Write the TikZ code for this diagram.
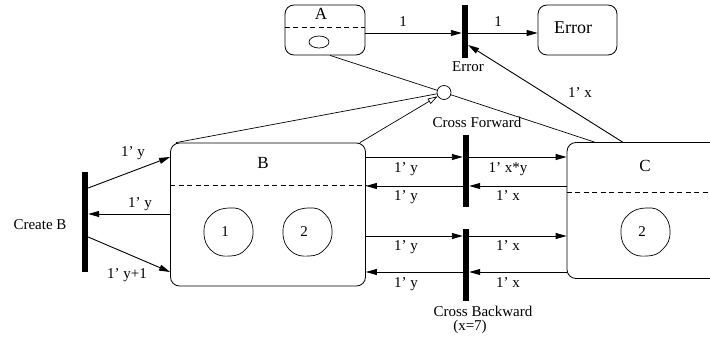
\documentclass[tikz,border=0pt]{standalone}
\usepackage{fontspec}
\setmainfont{Liberation Serif}
\usetikzlibrary{arrows.meta,calc}
\begin{document}
\begin{tikzpicture}[x=1pt,y=-1pt,
  box/.style={draw,line width=0.8pt,rounded corners=9pt,inner sep=0pt},
  bar/.style={fill=black,draw=none,inner sep=0pt,minimum width=6pt},
  arr/.style={line width=0.9pt,-{Triangle[length=11pt,width=6pt]}},
  thinln/.style={line width=0.7pt},
  dsh/.style={line width=0.8pt,dash pattern=on 5pt off 3.5pt},
  lbl/.style={anchor=base,inner sep=0pt,font=\fontsize{15}{17}\selectfont},
  ttl/.style={anchor=base,inner sep=0pt,font=\fontsize{17}{19}\selectfont},
  blob/.pic={\draw[line width=0.7pt] plot[smooth cycle,tension=0.8] coordinates {(2,-24) (18,-18) (25,0) (18,17) (2,24) (-16,19) (-24,1) (-17,-17)};}
]
\useasboundingbox (0,0) rectangle (710,337);
\clip (0,0) rectangle (710,337);

% boxes
\node[box,minimum width=80pt,minimum height=50pt] (A) at (325,30) {};
\node[box,minimum width=79pt,minimum height=50pt] (Err) at (577.5,30) {};
\node[box,minimum width=195pt,minimum height=143pt] (B) at (268,214.5) {};
\node[box,minimum width=156pt,minimum height=136pt] (C) at (645,210.5) {};

% bars
\node[bar,minimum height=53pt] (eb) at (465,31.5) {};
\node[bar,minimum height=72pt] (cf) at (466,171) {};
\node[bar,minimum height=72pt] (cb) at (466,265) {};
\node[bar,minimum height=100pt] (cr) at (85,221.5) {};

% junction circle
\node[draw,circle,thinln,minimum size=14pt,inner sep=0pt] (o) at (444,92.5) {};

% helper coordinates (row heights)
\coordinate (ya) at (0,27);
\coordinate (yarr) at (0,33);
\coordinate (ey) at (0,45);
\coordinate (yb) at (0,185.5);
\coordinate (yc) at (0,192);
\coordinate (r1) at (0,157);
\coordinate (r2) at (0,186);
\coordinate (r3) at (0,236);
\coordinate (r4) at (0,272);
\coordinate (cc1) at (0,188);
\coordinate (cm) at (0,214);
\coordinate (cc3) at (0,237);

% dashed separators
\draw[dsh] (A.west |- ya) -- (A.east |- ya);
\draw[dsh] (B.west |- yb) -- (B.east |- yb);
\draw[dsh] (C.west |- yc) -- (C.east |- yc);

% contents
\draw[thinln] (319,42) ellipse [x radius=10, y radius=6];
\pic at (228,232) {blob};
\pic at (307,232) {blob};
\pic at (645,232) {blob};
\node[lbl] (n1) at (225,236) {1};
\node[lbl] (n2) at (304,236) {2};
\node[lbl] (n3) at (642,236) {2};

% titles
\node[ttl] (tA) at (321,20) {A};
\node[ttl] (tB) at (263,168) {B};
\node[ttl] (tC) at (645,171) {C};
\node[anchor=base,inner sep=0pt,font=\fontsize{18}{20}\selectfont] (tE) at (573,34) {Error};

% top arrows
\draw[arr] (A.east |- yarr) -- (eb.west |- yarr);
\draw[arr] (eb.east |- yarr) -- (Err.west |- yarr);
\draw[arr] ([xshift=56pt]C.north west) -- (eb.east |- ey);

% lines to junction
\draw[thinln] ([xshift=5pt]A.south) -- (o);
\draw[thinln] ([xshift=6pt]B.north west) -- (o);
\draw[thinln,-{Triangle[open,length=10pt,width=6pt]}] ([xshift=-6pt]B.north east) -- (o);
\draw[thinln] (o) -- ([xshift=28pt]C.north west);

% cross forward
\draw[arr] (B.east |- r1) -- (cf.west |- r1);
\draw[arr] (cf.east |- r1) -- (C.west |- r1);
\draw[arr] (C.west |- r2) -- (cf.east |- r2);
\draw[arr] (cf.west |- r2) -- (B.east |- r2);

% cross backward
\draw[arr] (B.east |- r3) -- (cb.west |- r3);
\draw[arr] (cb.east |- r3) -- (C.west |- r3);
\draw[arr] (C.west |- r4) -- (cb.east |- r4);
\draw[arr] (cb.west |- r4) -- (B.east |- r4);

% create B
\draw[arr] (cr.east |- cc1) -- (B.west |- r1);
\draw[arr] (B.west |- cm) -- (cr.east |- cm);
\draw[arr] (cr.east |- cc3) -- (B.west |- r4);

% labels
\node[lbl] (l1) at (403,27) {1};
\node[lbl] (l2) at (498,27) {1};
\node[lbl] (leb) at (468,72) {Error};
\node[lbl] (lx) at (580,98) {1’ x};
\node[lbl] (lcf) at (477,128) {Cross Forward};
\node[lbl] (lcb) at (483,316) {Cross Backward};
\node[lbl] (lx7) at (470,330) {(x=7)};
\node[lbl] (lcr) at (40,229) {Create B};

\node[lbl] (c1) at (133,157) {1’ y};
\node[lbl] (c2) at (140,207) {1’ y};
\node[lbl] (c3) at (127,278) {1’ y+1};

\node[lbl] (f1) at (406,172) {1’ y};
\node[lbl] (f2) at (508,172) {1’ x*y};
\node[lbl] (f3) at (406,200) {1’ y};
\node[lbl] (f4) at (508,200) {1’ x};

\node[lbl] (k1) at (406,250) {1’ y};
\node[lbl] (k2) at (508,250) {1’ x};
\node[lbl] (k3) at (406,287) {1’ y};
\node[lbl] (k4) at (508,287) {1’ x};
\end{tikzpicture}
\end{document}
